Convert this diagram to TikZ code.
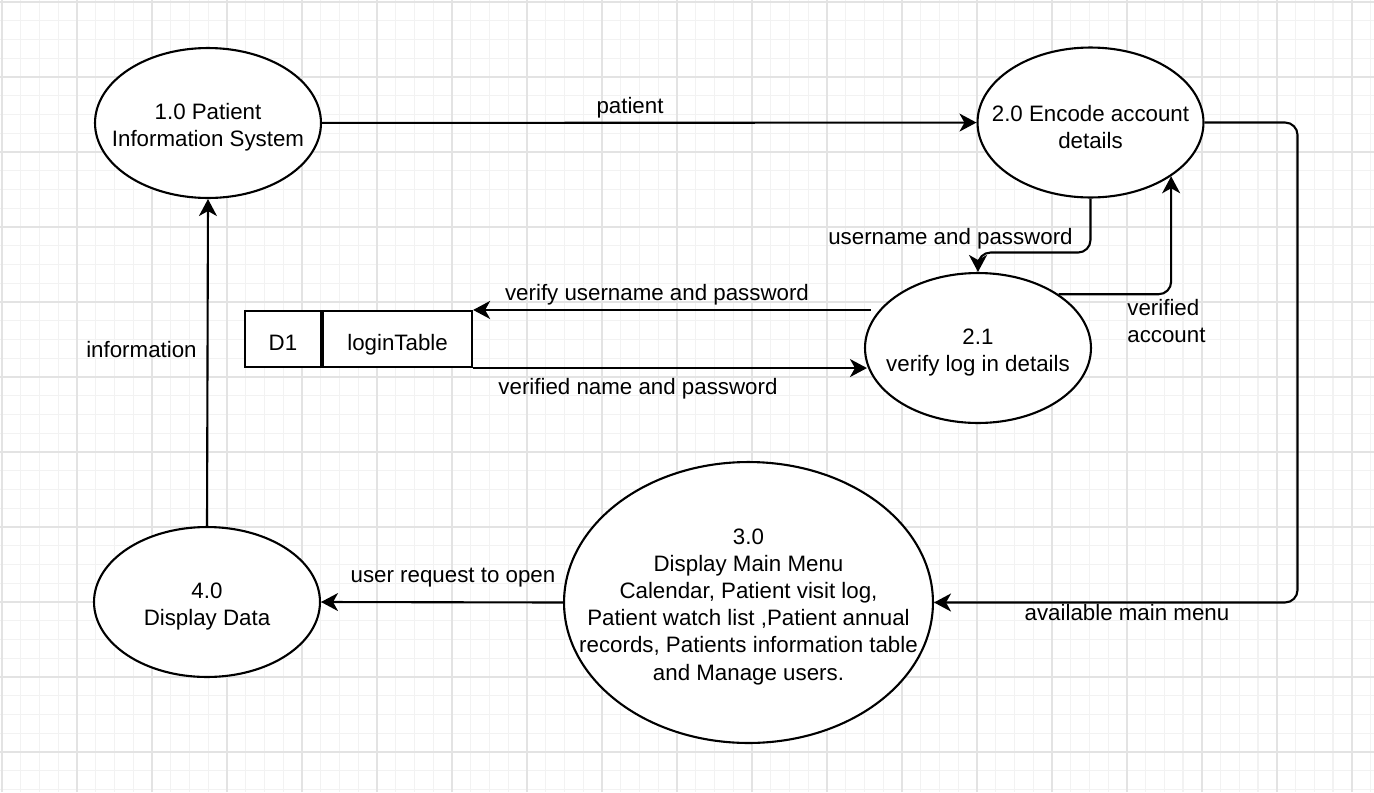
\documentclass[tikz,border=0pt]{standalone}
\usepackage{fontspec}
\setmainfont{Liberation Sans}
\usetikzlibrary{arrows.meta,calc,positioning,shapes.geometric}
\def\dfdfont{\fontsize{12.7}{15.4}\selectfont}

\tikzset{
  proc/.style={ellipse, draw, line width=1.2pt, fill=white, inner sep=0pt,
    minimum width=4.52cm, minimum height=3cm},
  ptext/.style={font=\dfdfont, align=center, inner sep=0pt, yshift=-2.5pt},
  store/.style={rectangle, draw, line width=1.2pt, fill=white, inner sep=0pt,
    minimum height=1.12cm, text height=2.4ex, text depth=0pt, font=\dfdfont},
  flow/.style={line width=1.2pt, -{Stealth[length=3.4mm, width=3.6mm, inset=1mm]}},
  lbl/.style={font=\dfdfont, inner sep=0pt},
}

\begin{document}
\begin{tikzpicture}[x=0.02cm, y=-0.02cm]
			%%%%% PAPER %%%%%
			\useasboundingbox (0,0) rectangle (1374,792);
			\fill[white] (0,0) rectangle (1374,792);
			\begin{scope}[shift={(2,2)}]
				\draw[black!5, line width=0.6pt, step=0.375cm] (-2,-2) grid (1372,790);
				\draw[black!11, line width=0.9pt, step=1.5cm] (-2,-2) grid (1372,790);
			\end{scope}
			
			%%%%% PROCESSES %%%%%
			\node[proc] (p1) at (208,123) {};
			\node[ptext] (p1txt) at (p1) {1.0 Patient\\Information System};
			
			\node[proc] (p2) at (1090.5,122.5) {};
			\node[ptext] (p2txt) at (p2) {2.0 Encode account\\details};
			
			\node[proc] (p21) at (978,348) {};
			\node[ptext] (p21txt) at (p21) {2.1\\verify log in details};
			
			\node[proc, minimum width=7.38cm, minimum height=5.62cm] (p3) at (748.5,602.5) {};
			\node[ptext] (p3txt) at (p3) {3.0\\Display Main Menu\\Calendar, Patient visit log,\\Patient watch list ,Patient annual\\records, Patients information table\\and Manage users.};
			
			\node[proc] (p4) at (207,602) {};
			\node[ptext] (p4txt) at (p4) {4.0\\Display Data};
			
			%%%%% DATA STORE %%%%%
			\node[store, minimum width=1.52cm] (d1) at (283,339) {D1};
			\node[store, minimum width=2.98cm, right=0pt of d1] (lt) {loginTable};
			
			%%%%% FLOWS %%%%%
			\draw[flow] (p1) -- (p2);
			\node[lbl, anchor=base] (lpatient) at (630,113) {patient};
			
			\draw[flow, rounded corners=0.25cm] (p2.south) -- ++(0,54) -| (p21.north);
			\node[lbl, anchor=base east] (luser) at (1073,244) {username and password};
			
			\draw[flow, rounded corners=0.25cm] (p21.north east) -| (p2.south east);
			\node[lbl, anchor=north west, align=left] (lverif) at (1127,299) {verified\\account};
			
			\draw[flow] ($(p21.west |- lt.north east)+(7,0)$) -- (lt.north east);
			\node[lbl, anchor=base] (lcheck) at (657,300) {verify username and password};
			
			\draw[flow] (lt.south east) -- ($(p21.west |- lt.south east)+(3,0)$);
			\node[lbl, anchor=base] (lname) at (638,394) {verified name and password};
			
			\draw[flow, rounded corners=0.25cm] (p2.east) -- ++(93,0) |- (p3.east);
			\node[lbl, anchor=base] (lmenu) at (1127,620) {available main menu};
			
			\draw[flow] (p3.west) -- (p4.east);
			\node[lbl, anchor=base] (lopen) at (453,582) {user request to open};
			
			\draw[flow] (p4.north) -- (p1.south);
			\node[lbl, anchor=base east] (linfo) at (197,357) {information};
			
			%%%%% END %%%%%
\end{tikzpicture}
\end{document}
